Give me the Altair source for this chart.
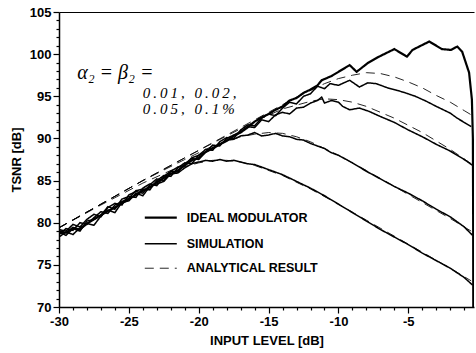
import altair as alt
import pandas as pd

# ---------------- data ----------------
ideal_x = [-30, -29.5, -29, -28.5, -28, -27.5, -27, -26.5, -26, -25.5, -25, -24.5, -24, -23.5, -23,
           -22.5, -22, -21.5, -21, -20.5, -20, -19.5, -19, -18.5, -18, -17.5, -17, -16.5, -16, -15.5,
           -15, -14.5, -14, -13.5, -13, -12.5, -12, -11.5, -11.2, -10.5, -10, -9.2, -8.7, -7.9, -7.1,
           -6.0, -5.1, -4.7, -3.5, -2.6, -1.95, -1.5, -1.15, -0.65, -0.45, -0.38, -0.36, -0.35]
ideal_y = [79.0, 78.8, 79.4, 79.2, 79.9, 80.4, 80.9, 81.4, 81.8, 82.3, 82.8, 83.3, 83.8, 84.2, 84.8,
           85.3, 85.8, 86.2, 86.8, 87.4, 87.7, 88.4, 88.8, 89.3, 89.7, 90.3, 90.7, 91.3, 92.0, 92.5,
           92.9, 93.4, 93.8, 94.5, 94.8, 95.4, 95.8, 96.3, 96.9, 97.4, 97.9, 98.7, 97.9, 98.95, 99.7,
           100.6, 99.7, 100.5, 101.5, 100.6, 100.5, 100.9, 100.3, 97.8, 94.6, 90.0, 80.0, 69.0]

# simulation curves (alpha2 = beta2 = 0.01, 0.02, 0.05, 0.1 %)
sim01_x = [-30, -29.5, -29, -28.5, -28, -27.5, -27, -26.5, -26, -25.5, -25, -24.5, -24, -23.5, -23,
           -22.5, -22, -21.5, -21, -20.5, -20, -19.5, -19, -18.5, -18, -17.5, -17, -16.5, -16, -15.5,
           -15, -14.5, -14, -13.5, -13, -12.5, -12, -11.5, -11, -10.6, -10, -9.2, -8.5, -7.9, -7.3,
           -6.4, -5.8, -5.2, -4.5, -3.7, -3, -2, -1.5, -0.9, -0.5]
sim01_y = [78.6, 79.3, 79.1, 80.0, 79.8, 80.6, 81.3, 81.1, 82.1, 82.5, 82.9, 83.8, 84.0, 83.9, 85.0,
           85.6, 85.5, 86.5, 87.1, 87.0, 88.0, 88.7, 88.6, 89.6, 90.1, 90.0, 91.0, 91.6, 91.5, 92.4,
           92.9, 92.7, 93.6, 94.3, 94.1, 95.0, 95.3, 96.2, 95.9, 96.5, 96.3, 96.9, 96.1, 96.6, 96.5,
           95.95, 95.7, 95.4, 95.0, 94.4, 93.8, 93.0, 92.4, 91.8, 91.4]

sim02_x = [-30, -29.5, -29, -28.5, -28, -27.5, -27, -26.5, -26, -25.5, -25, -24.5, -24, -23.5, -23,
           -22.5, -22, -21.5, -21, -20.5, -20, -19.5, -19, -18.5, -18, -17.5, -17, -16.5, -16, -15.5,
           -15, -14.5, -14, -13.5, -13, -12.5, -12, -11.5, -11.2, -11, -10.5, -10, -9.7, -9.2, -8.5,
           -7.8, -7, -6, -5, -4, -3, -2, -1, -0.4]
sim02_y = [79.2, 79.0, 79.8, 79.5, 80.4, 81.0, 80.7, 81.8, 82.3, 82.1, 83.3, 83.7, 83.5, 84.5, 85.2,
           85.0, 86.1, 86.6, 86.8, 87.7, 88.0, 88.4, 89.2, 89.1, 90.0, 90.4, 90.8, 91.4, 91.3, 92.2,
           92.0, 92.8, 93.1, 92.9, 93.6, 93.7, 94.2, 94.5, 94.9, 94.2, 94.5, 94.3, 93.8, 93.4, 93.6,
           93.2, 92.6, 91.9, 91.0, 90.2, 89.3, 88.5, 87.5, 86.8]

sim05_x = [-30, -29.5, -29, -28.5, -28, -27.5, -27, -26.5, -26, -25.5, -25, -24.5, -24, -23.5, -23,
           -22.5, -22, -21.5, -21, -20.5, -20, -19.5, -19, -18.5, -18, -17.5, -17, -16.5, -16, -15.5,
           -15, -14.5, -14, -13.5, -13, -12.5, -12, -11, -10.5, -10, -9, -8, -7, -6, -5, -4, -3, -2,
           -1, -0.4]
sim05_y = [78.9, 78.5, 79.3, 79.0, 80.2, 80.4, 80.9, 81.9, 81.6, 82.8, 83.1, 83.0, 84.1, 84.6, 84.4,
           85.5, 86.1, 86.0, 87.0, 87.6, 87.5, 88.4, 88.9, 89.3, 89.8, 89.9, 90.3, 90.4, 90.7, 90.3,
           90.4, 90.6, 90.3, 90.2, 89.9, 89.8, 89.4, 88.8, 88.3, 88.0, 87.1, 86.1, 85.2, 84.3, 83.5,
           82.6, 81.6, 80.7, 79.5, 78.5]

sim10_x = [-30, -29.5, -29, -28.5, -28, -27.5, -27, -26.5, -26, -25.5, -25, -24.5, -24, -23.5, -23,
           -22.5, -22, -21.5, -21, -20.5, -20, -19.5, -19, -18.5, -18, -17.5, -17, -16.5, -16, -15.5,
           -15, -14, -13, -12, -11, -10, -9, -8, -7, -6, -5, -4, -3, -2, -1, -0.4]
sim10_y = [78.3, 78.9, 78.6, 79.4, 79.9, 79.7, 80.8, 81.5, 81.2, 82.4, 82.6, 83.5, 83.2, 84.3, 84.6,
           84.9, 85.8, 85.9, 86.5, 87.0, 87.2, 87.4, 87.3, 87.5, 87.3, 87.4, 87.2, 87.0, 86.9, 86.6,
           86.3, 85.7, 84.9, 84.1, 83.2, 82.2, 81.2, 80.2, 79.2, 78.3, 77.4, 76.4, 75.5, 74.6, 73.5,
           72.6]

# analytical results
ana01_x = [-30, -27, -24, -21, -18, -15, -13, -11, -10, -9, -8, -7, -6, -5, -4, -3, -2, -1, -0.5]
ana01_y = [79.4, 82.2, 85.0, 87.7, 90.4, 93.1, 94.9, 96.5, 97.1, 97.5, 97.8, 97.7, 97.3, 96.7, 96.0,
           95.1, 94.3, 93.3, 92.8]
ana02_x = [-30, -27, -24, -21, -18, -16, -14, -12, -11, -10, -9, -8, -6, -4, -2, -0.5]
ana02_y = [79.4, 82.2, 85.0, 87.7, 90.3, 92.0, 93.5, 94.4, 94.7, 94.6, 94.3, 93.8, 92.4, 90.7, 88.7,
           87.0]
ana05_x = [-30, -27, -24, -21, -19, -17, -16, -15, -14, -13, -12, -10, -8, -6, -4, -2, -0.5]
ana05_y = [79.4, 82.2, 85.0, 87.5, 89.1, 90.2, 90.5, 90.7, 90.6, 90.2, 89.6, 88.0, 86.2, 84.3, 82.4,
           80.5, 79.0]
ana10_x = [-30, -27, -24, -22, -20, -19, -18, -17, -16, -14, -12, -10, -8, -6, -4, -2, -0.5]
ana10_y = [79.4, 82.1, 84.7, 86.2, 87.1, 87.4, 87.4, 87.2, 86.8, 85.6, 84.0, 82.2, 80.3, 78.4, 76.5,
           74.6, 73.1]

# legend
legend_labels = ["IDEAL MODULATOR", "SIMULATION", "ANALYTICAL RESULT"]
legend_kinds = ["ideal", "sim", "ana"]
legend_y = [80.6, 77.5, 74.6]
legend_x0, legend_x1, legend_tx = -23.86, -21.57, -20.86

# annotation
T = "\u2009"
ann_texts = ["α₂ = β₂ =", T.join("0.01, 0.02,"), T.join("0.05, 0.1%")]
ann_x = [-28.7, -24.0, -24.0]
ann_y = [97.0, 94.75, 92.85]
ann_size = [20, 15, 15]

x_ticks = list(range(-30, 0))
y_ticks = list(range(70, 106))

# ---------------- build tables ----------------
rows = []
def add(name, kind, xs, ys):
    for i, (a, b) in enumerate(zip(xs, ys)):
        rows.append({"series": name, "kind": kind, "i": i, "x": a, "y": b})

add("ideal", "ideal", ideal_x, ideal_y)
add("s01", "sim", sim01_x, sim01_y)
add("s02", "sim", sim02_x, sim02_y)
add("s05", "sim", sim05_x, sim05_y)
add("s10", "sim", sim10_x, sim10_y)
add("a01", "ana", ana01_x, ana01_y)
add("a02", "ana", ana02_x, ana02_y)
add("a05", "ana", ana05_x, ana05_y)
add("a10", "ana", ana10_x, ana10_y)
df = pd.DataFrame(rows)

leg_rows = []
for k, yv in zip(legend_kinds, legend_y):
    leg_rows.append({"series": k, "kind": k, "i": 0, "x": legend_x0, "y": yv})
    leg_rows.append({"series": k, "kind": k, "i": 1, "x": legend_x1, "y": yv})
leg_df = pd.DataFrame(leg_rows)
leg_txt = pd.DataFrame({"x": [legend_tx] * 3, "y": legend_y, "t": legend_labels})
ann_df = pd.DataFrame({"x": ann_x, "y": ann_y, "t": ann_texts, "s": ann_size})

x_scale = alt.Scale(domain=[-30, -0.3], nice=False, zero=False)
y_scale = alt.Scale(domain=[70, 105], nice=False, zero=False)

kind_dom = ["ideal", "sim", "ana"]
dash = alt.StrokeDash("kind:N", scale=alt.Scale(domain=kind_dom, range=[[1, 0], [1, 0], [9, 6]]), legend=None)
width = alt.StrokeWidth("kind:N", scale=alt.Scale(domain=kind_dom, range=[2.2, 0.85, 1.0]), legend=None)

FONT = "Liberation Sans"

common_axis = dict(
    grid=False,
    tickSize={"condition": {"test": "datum.value % 5 === 0", "value": 6}, "value": 3},
    labelFont=FONT, labelFontWeight="bold", labelFontSize=13, labelColor="black",
    titleFont=FONT, titleFontWeight="bold", titleFontSize=13, titleColor="black",
    labelPadding=2, domainColor="black", domainWidth=1.5,
    tickColor="black", tickWidth=1.2, labelFlush=False,
)
x_axis = alt.Axis(
    values=x_ticks, title="INPUT LEVEL [dB]", titlePadding=6,
    labelExpr="datum.value % 5 === 0 ? '-' + abs(datum.value) : ''",
    **common_axis,
)
y_axis = alt.Axis(
    values=y_ticks, title="TSNR [dB]", titlePadding=6,
    labelExpr="datum.value % 5 === 0 ? datum.label : ''",
    **common_axis,
)

lines = alt.Chart(df).mark_line(color="black", clip=True).encode(
    x=alt.X("x:Q", scale=x_scale, axis=x_axis),
    y=alt.Y("y:Q", scale=y_scale, axis=y_axis),
    detail="series:N", order=alt.Order("i:Q"),
    strokeDash=dash, strokeWidth=width,
)

legend_lines = alt.Chart(leg_df).mark_line(color="black").encode(
    x=alt.X("x:Q", scale=x_scale, axis=None),
    y=alt.Y("y:Q", scale=y_scale, axis=None),
    detail="series:N", order=alt.Order("i:Q"),
    strokeDash=dash, strokeWidth=width,
)

legend_text = alt.Chart(leg_txt).mark_text(
    align="left", baseline="middle", font=FONT, fontWeight="bold", fontSize=12.5, color="black"
).encode(
    x=alt.X("x:Q", scale=x_scale, axis=None),
    y=alt.Y("y:Q", scale=y_scale, axis=None),
    text="t:N",
)

ann_text = alt.Chart(ann_df).mark_text(
    align="left", baseline="alphabetic", font="Liberation Serif", fontStyle="italic", color="black"
).encode(
    x=alt.X("x:Q", scale=x_scale, axis=None),
    y=alt.Y("y:Q", scale=y_scale, axis=None),
    text="t:N",
    size=alt.Size("s:Q", scale=None, legend=None),
)

top_frame = alt.Chart(pd.DataFrame({"x": [-30.0], "y": [80.0]})).mark_point(opacity=0).encode(
    x=alt.X("x:Q", scale=x_scale,
            axis=alt.Axis(orient="top", labels=False, ticks=False, title=None, grid=False,
                          domainColor="black", domainWidth=1.2)),
    y=alt.Y("y:Q", scale=y_scale, axis=None),
)

chart = alt.layer(lines, legend_lines, legend_text, ann_text, top_frame).resolve_axis(
    x="independent", y="independent"
).properties(
    width=415, height=295,
    padding={"left": 59, "top": 12, "right": 2, "bottom": 46},
    autosize="none", background="white",
).configure_view(stroke=None)

chart.save("out.html", embed_options={"renderer": "svg", "actions": False})
